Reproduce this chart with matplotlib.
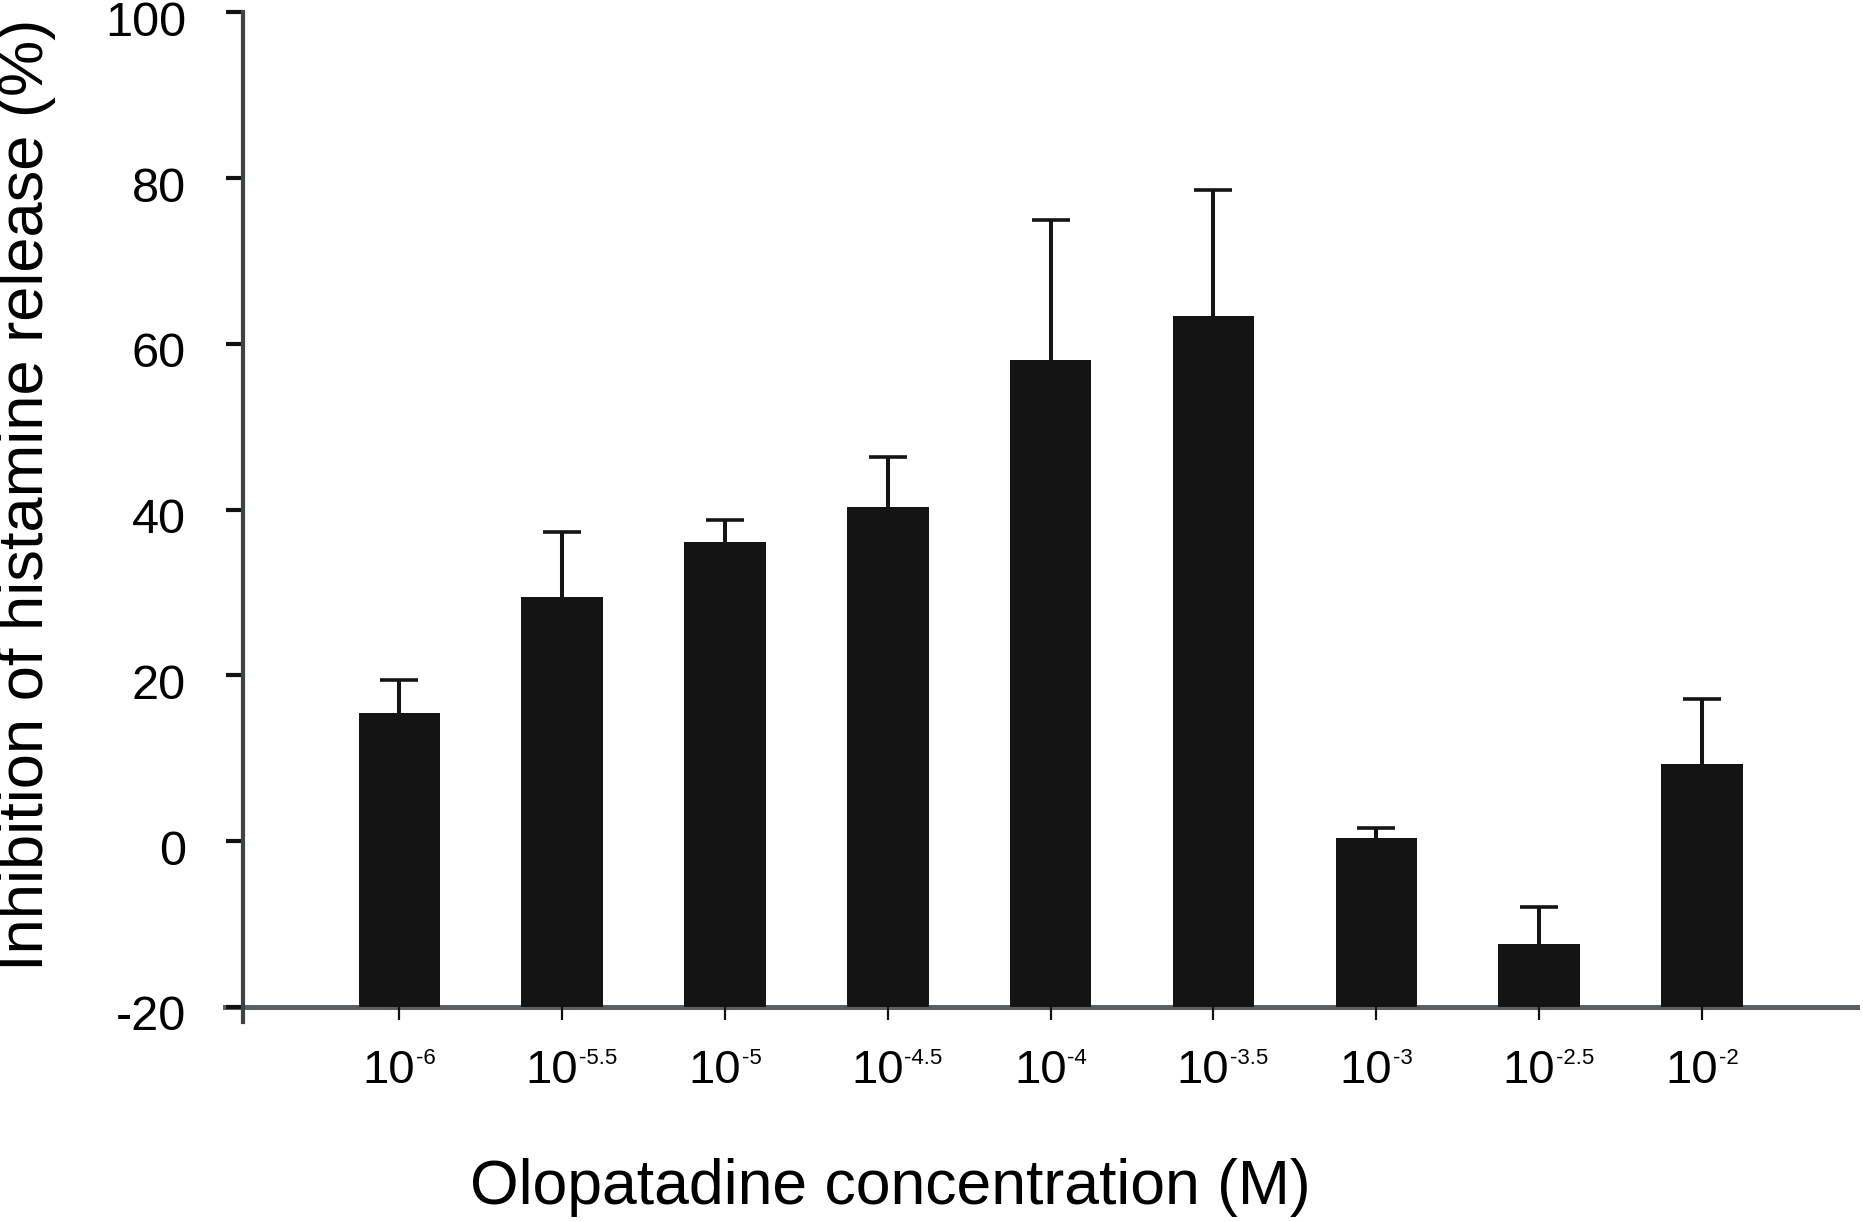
import matplotlib
matplotlib.use('Agg')
import matplotlib.pyplot as plt
import matplotlib.transforms as mtransforms
import numpy as np

# Olopatadine, log10 of molar concentration (superscripts of the tick labels)
exponents = ['-6', '-5.5', '-5', '-4.5', '-4', '-3.5', '-3', '-2.5', '-2']
# mean inhibition of histamine release (%)
inhibition = [15.4, 29.5, 36.1, 40.3, 58.1, 63.3, 0.4, -12.4, 9.3]
# upper error (SEM), only drawn upward
sem = [4.0, 7.8, 2.6, 6.0, 16.8, 15.2, 1.2, 4.4, 7.8]
y_ticks = [-20, 0, 20, 40, 60, 80, 100]

plt.rcParams['font.family'] = ['Liberation Sans', 'DejaVu Sans']
plt.rcParams['axes.unicode_minus'] = False

bar_color = '#141414'
baseline = -20  # bars are drawn up from the bottom of the axis

fig = plt.figure(figsize=(18.63, 12.22), dpi=100)
ax = fig.add_axes([0.1304, 0.176, 0.8663, 0.814])

x = np.arange(1, len(exponents) + 1)
vals = np.array(inhibition)
ax.bar(x, vals - baseline, bottom=baseline, width=0.5, color=bar_color,
       linewidth=0, zorder=2)
eb = ax.errorbar(x, vals, yerr=[np.zeros(len(sem)), sem], fmt='none',
                 ecolor=bar_color, elinewidth=2.9, capsize=14, capthick=2.6,
                 zorder=3)
# no cap at the bar top, only the upper one
for cap in eb.lines[1]:
    if np.allclose(cap.get_ydata(), vals):
        cap.set_visible(False)

x0, x1 = 0.039, 9.952
ax.set_xlim(x0, x1)
ax.set_ylim(-20, 100)

for s in ['top', 'right']:
    ax.spines[s].set_visible(False)
ax.spines['left'].set_color('#3d4347')
ax.spines['left'].set_linewidth(3)
ax.spines['left'].set_bounds(-21.8, 100)
ax.spines['bottom'].set_color('#5b6064')
ax.spines['bottom'].set_linewidth(3.6)
ax.spines['bottom'].set_bounds(x0 - 0.11, x1)
ax.spines['bottom'].set_zorder(1)

ax.set_yticks(y_ticks)
ax.set_yticklabels([str(v) for v in y_ticks])
ax.tick_params(axis='y', direction='out', length=12, width=3, color='#111111',
               pad=29, labelsize=35)

ax.set_xticks(x)
ax.set_xticklabels(['10'] * len(exponents))
ax.tick_params(axis='x', direction='out', length=9, width=1.6, color='#111111',
               pad=21, labelsize=34)

# y labels sit a little below their ticks, "10" ends just right of its tick
down = mtransforms.ScaledTranslation(0, -6 / 100, fig.dpi_scale_trans)
for lab in ax.get_yticklabels():
    lab.set_transform(lab.get_transform() + down)
right = mtransforms.ScaledTranslation(16 / 100, 0, fig.dpi_scale_trans)
for lab in ax.get_xticklabels():
    lab.set_ha('right')
    lab.set_transform(lab.get_transform() + right)

# small superscript exponents next to each "10"
for xi, e in zip(x, exponents):
    ax.annotate(e, xy=(xi, 0), xycoords=ax.get_xaxis_transform(),
                xytext=(12, -29.5), textcoords='offset points',
                ha='left', va='top', fontsize=16, annotation_clip=False)

ax.set_xlabel('Olopatadine concentration (M)', fontsize=45)
ax.xaxis.set_label_coords(0.401, -0.152)
ax.set_ylabel('Inhibition of histamine release (%)', fontsize=45.5)
ax.yaxis.set_label_coords(-0.116, 0.515)

fig.savefig('out.png', dpi=100)
